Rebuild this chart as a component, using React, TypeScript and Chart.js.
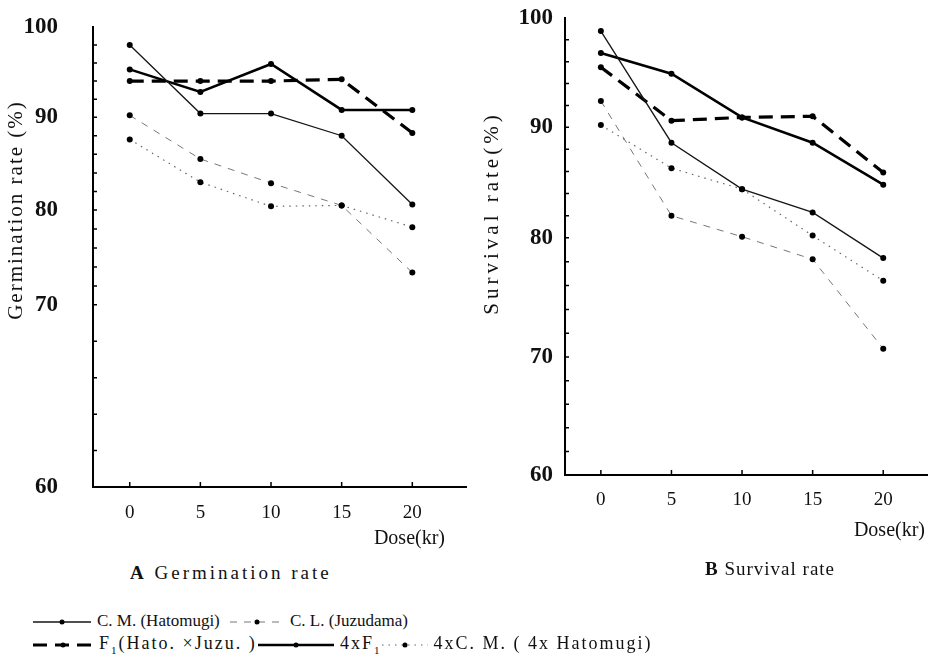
import React, { useEffect, useRef } from "react";
import { Chart, LinearScale, registerables } from "chart.js";

// A linear scale whose value-to-pixel mapping follows the (unevenly drawn) axis of the original figure.
class PiecewiseLinearScale extends (LinearScale as any) {
  static id = "piecewiseLinear";
  static defaults = { ...(LinearScale as any).defaults };
  _bp() {
    const o: any = this.options;
    return { v: o.breakValues as number[], f: o.breakFractions as number[] };
  }
  getPixelForValue(value: number) {
    if (value === null || value === undefined || isNaN(value)) return NaN;
    const { v, f } = this._bp();
    let i = 0;
    while (i < v.length - 2 && value > v[i + 1]) i++;
    const t = (value - v[i]) / (v[i + 1] - v[i]);
    return this.getPixelForDecimal(f[i] + t * (f[i + 1] - f[i]));
  }
  getValueForPixel(pixel: number) {
    const d = this.getDecimalForPixel(pixel);
    const { v, f } = this._bp();
    let i = 0;
    while (i < f.length - 2 && d > f[i + 1]) i++;
    const t = (d - f[i]) / (f[i + 1] - f[i]);
    return v[i] + t * (v[i + 1] - v[i]);
  }
}
Chart.register(...registerables, PiecewiseLinearScale as any);

// ---- data ----
const doses = [0, 5, 10, 15, 20];
const doseTicks = [0, 5, 10, 15, 20];
const yTicks = [60, 70, 80, 90, 100];
const minorStep = 2;

const seriesLabels = ["C. M. (Hatomugi)", "C. L. (Juzudama)", "F1(Hato. ×Juzu.)", "4xF1", "4xC. M. (4x Hatomugi)"];

// A: Germination rate (%)
const germCM = [98.0, 90.4, 90.4, 88.0, 80.6];
const germCL = [90.2, 85.5, 82.9, 80.5, 73.4];
const germF1 = [94.0, 94.0, 94.0, 94.2, 88.3];
const germ4xF1 = [95.3, 92.8, 95.9, 90.8, 90.8];
const germ4xCM = [87.6, 83.0, 80.4, 80.5, 78.2];

// B: Survival rate (%)
const survCM = [98.8, 88.6, 84.4, 82.3, 78.3];
const survCL = [92.4, 82.0, 80.1, 78.2, 70.7];
const survF1 = [95.5, 90.6, 90.9, 91.0, 85.9];
const surv4xF1 = [96.8, 94.9, 90.9, 88.6, 84.8];
const surv4xCM = [90.2, 86.3, 84.4, 80.2, 76.4];

const FONT = '"Liberation Serif", "DejaVu Serif", serif';

const seriesStyles = [
  { borderColor: "#151515", borderWidth: 1.3, borderDash: [] as number[] },
  { borderColor: "#777", borderWidth: 1, borderDash: [7, 7] },
  { borderColor: "#000", borderWidth: 3.2, borderDash: [14, 8] },
  { borderColor: "#000", borderWidth: 2.6, borderDash: [] as number[] },
  { borderColor: "#666", borderWidth: 1.2, borderDash: [1.5, 5] },
];

const tickMarks = {
  id: "tickMarks",
  afterDraw(chart: any) {
    const { ctx } = chart;
    const x = chart.scales.x;
    const y = chart.scales.y;
    ctx.save();
    ctx.strokeStyle = "#000";
    ctx.lineWidth = 1.5;
    ctx.beginPath();
    for (let v = 60 + minorStep; v < 100; v += minorStep) {
      const py = y.getPixelForValue(v);
      ctx.moveTo(x.left, py);
      ctx.lineTo(x.left + 4, py);
    }
    doseTicks.forEach((d) => {
      const px = x.getPixelForValue(d);
      ctx.moveTo(px, y.bottom);
      ctx.lineTo(px, y.bottom - 5);
    });
    ctx.stroke();
    ctx.restore();
  },
};

type Opts = {
  values: number[][];
  top: number;
  right: number;
  xh: number;
  yw: number;
  xmin: number;
  xmax: number;
  yTickPad: number;
  xTickPad: number;
  breakFractions: number[];
};

function makeChart(canvas: HTMLCanvasElement, o: Opts) {
  return new Chart(canvas, {
    type: "line",
    data: {
      datasets: o.values.map((vals, i) => ({
        label: seriesLabels[i],
        data: doses.map((d, j) => ({ x: d, y: vals[j] })),
        borderColor: seriesStyles[i].borderColor,
        borderWidth: seriesStyles[i].borderWidth,
        borderDash: seriesStyles[i].borderDash,
        pointRadius: 3,
        pointBackgroundColor: "#000",
        pointBorderWidth: 0,
        tension: 0,
        fill: false,
      })),
    },
    options: {
      responsive: false,
      maintainAspectRatio: false,
      animation: false,
      layout: { padding: { left: 0, top: o.top, right: o.right, bottom: 0 } },
      plugins: { legend: { display: false }, tooltip: { enabled: false }, title: { display: false } },
      scales: {
        x: {
          type: "linear",
          min: o.xmin,
          max: o.xmax,
          afterBuildTicks: (s: any) => {
            s.ticks = doseTicks.map((v) => ({ value: v }));
          },
          ticks: { font: { family: FONT, size: 19 }, color: "#111", padding: o.xTickPad, maxRotation: 0, autoSkip: false },
          grid: { display: false, drawTicks: false },
          border: { display: true, width: 2, color: "#000" },
          afterFit: (s: any) => {
            s.height = o.xh;
            s.paddingLeft = 0;
            s.paddingRight = 0;
          },
        },
        y: {
          type: "piecewiseLinear",
          min: 60,
          max: 100,
          breakValues: yTicks,
          breakFractions: o.breakFractions,
          afterBuildTicks: (s: any) => {
            s.ticks = yTicks.map((v) => ({ value: v }));
          },
          ticks: { font: { family: FONT, size: 23, weight: "bold" }, color: "#111", padding: o.yTickPad },
          grid: { display: false, drawTicks: false },
          border: { display: true, width: 2, color: "#000" },
          afterFit: (s: any) => {
            s.width = o.yw;
            s.paddingTop = 0;
            s.paddingBottom = 0;
          },
        },
      },
    },
    plugins: [tickMarks],
  } as any);
}

function Sample({ w, style, dot = true }: { w: number; style: number; dot?: boolean }) {
  const s = seriesStyles[style];
  return (
    <svg width={w} height={12} style={{ verticalAlign: "middle", marginRight: 6 }}>
      <line
        x1={0}
        y1={6}
        x2={w}
        y2={6}
        stroke={s.borderColor}
        strokeWidth={s.borderWidth}
        strokeDasharray={s.borderDash.length ? s.borderDash.join(" ") : undefined}
      />
      {dot && <circle cx={w / 2} cy={6} r={2.5} fill="#000" />}
    </svg>
  );
}

export default function App() {
  const leftRef = useRef<HTMLCanvasElement>(null);
  const rightRef = useRef<HTMLCanvasElement>(null);

  useEffect(() => {
    const a = makeChart(leftRef.current!, {
      values: [germCM, germCL, germF1, germ4xF1, germ4xCM],
      top: 27,
      right: 4,
      xh: 73,
      yw: 93,
      xmin: -2.6,
      xmax: 23.8,
      yTickPad: 35,
      xTickPad: 15,
      breakFractions: [0, 0.396, 0.602, 0.804, 1],
    });
    const b = makeChart(rightRef.current!, {
      values: [survCM, survCL, survF1, surv4xF1, surv4xCM],
      top: 18,
      right: 3,
      xh: 85,
      yw: 95,
      xmin: -2.54,
      xmax: 23.1,
      yTickPad: 12,
      xTickPad: 14,
      breakFractions: [0, 0.258, 0.519, 0.761, 1],
    });
    return () => {
      a.destroy();
      b.destroy();
    };
  }, []);

  const txt: React.CSSProperties = { position: "absolute", fontFamily: FONT, color: "#111", whiteSpace: "nowrap" };
  const vTitle = (cx: number, cy: number, spacing: number): React.CSSProperties => ({
    ...txt,
    fontSize: 21,
    letterSpacing: spacing,
    width: 300,
    height: 26,
    lineHeight: "26px",
    textAlign: "center",
    left: cx - 150,
    top: cy - 13,
    transform: "rotate(-90deg)",
    transformOrigin: "50% 50%",
  });

  return (
    <div style={{ position: "absolute", left: 0, top: 0, width: 931, height: 655, background: "#fff", overflow: "hidden" }}>
      <canvas ref={leftRef} width={470} height={560} style={{ position: "absolute", left: 0, top: 0 }} />
      <canvas ref={rightRef} width={461} height={560} style={{ position: "absolute", left: 470, top: 0 }} />
      <div style={vTitle(15, 210, 2)}>Germination rate (%)</div>
      <div style={vTitle(491, 213, 4)}>Survival rate(%)</div>
      <div style={{ ...txt, fontSize: 20, right: 931 - 445, top: 526 }}>Dose(kr)</div>
      <div style={{ ...txt, fontSize: 20, right: 6, top: 518 }}>Dose(kr)</div>
      <div style={{ ...txt, fontSize: 19, left: 130, top: 562, letterSpacing: 3 }}>
        <b>A</b> Germination rate
      </div>
      <div style={{ ...txt, fontSize: 19, left: 705, top: 558, letterSpacing: 1 }}>
        <b>B</b> Survival rate
      </div>
      <div style={{ ...txt, fontSize: 17, left: 33, top: 611 }}>
        <Sample w={58} style={0} />
        {seriesLabels[0]}
      </div>
      <div style={{ ...txt, fontSize: 17, left: 230, top: 611 }}>
        <Sample w={54} style={1} />
        {seriesLabels[1]}
      </div>
      <div style={{ ...txt, fontSize: 18, left: 33, top: 633, letterSpacing: 2 }}>
        <Sample w={60} style={2} />
        F<sub style={{ fontSize: 11 }}>1</sub>(Hato. ×Juzu. )
      </div>
      <div style={{ ...txt, fontSize: 18, left: 258, top: 633, letterSpacing: 2 }}>
        <Sample w={76} style={3} />
        4xF<sub style={{ fontSize: 11 }}>1</sub>
        <Sample w={46} style={4} />
        4xC. M. ( 4x Hatomugi)
      </div>
    </div>
  );
}
